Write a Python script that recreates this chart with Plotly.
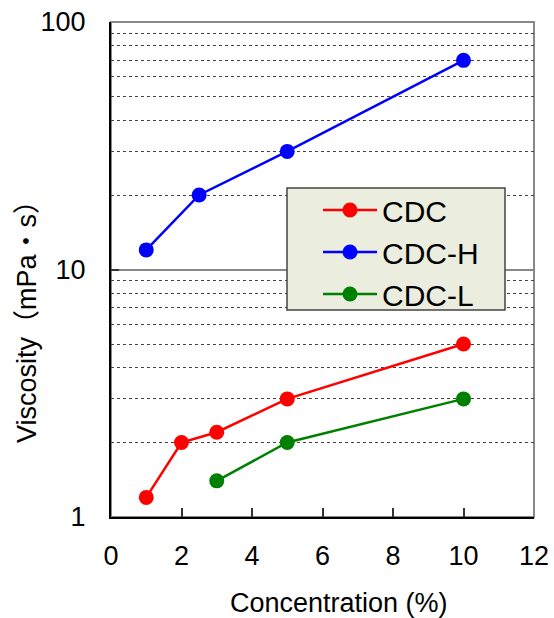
import plotly.graph_objects as go

cdc_x = [1, 2, 3, 5, 10]
cdc_y = [1.2, 2.0, 2.2, 3.0, 5.0]
cdch_x = [1, 2.5, 5, 10]
cdch_y = [12, 20, 30, 70]
cdcl_x = [3, 5, 10]
cdcl_y = [1.4, 2.0, 3.0]

x_ticks = [0, 2, 4, 6, 8, 10, 12]
y_ticks = [1, 10, 100]

FONT = "Liberation Sans, Arial, Noto Sans CJK JP, sans-serif"

fig = go.Figure()
for name, xs, ys, col in [("CDC", cdc_x, cdc_y, "#FF0000"),
                          ("CDC-H", cdch_x, cdch_y, "#0000FF"),
                          ("CDC-L", cdcl_x, cdcl_y, "#008000")]:
    fig.add_trace(go.Scatter(x=xs, y=ys, name=name, mode="lines+markers",
                             line=dict(color=col, width=2.5),
                             marker=dict(color=col, size=15)))

fig.update_layout(
    width=554, height=618,
    margin=dict(l=111, r=20, t=22, b=101, autoexpand=False),
    paper_bgcolor="white", plot_bgcolor="white",
    font=dict(family=FONT, size=27, color="black"),
    showlegend=True,
    legend=dict(x=(318 - 111) / 423, y=(517 - 184) / 495, xanchor="left", yanchor="top",
                bgcolor="rgba(0,0,0,0)", borderwidth=0,
                font=dict(size=30, family=FONT), itemwidth=54,
                tracegroupgap=0),
    shapes=[
        dict(type="rect", xref="paper", yref="paper", x0=0, x1=1, y0=0, y1=1,
             line=dict(color="#888888", width=2), layer="below"),
        dict(type="rect", xref="paper", yref="paper",
             x0=(287 - 111) / 423, x1=(505 - 111) / 423,
             y0=(517 - 310) / 495, y1=(517 - 188) / 495,
             line=dict(color="#444444", width=1.5), fillcolor="#EBEEDE",
             layer="above"),
    ],
    annotations=[
        dict(text="Concentration (%)", xref="paper", yref="paper",
             x=(339 - 111) / 423, y=-(603 - 517) / 495, showarrow=False,
             xanchor="center", yanchor="middle", font=dict(size=27)),
        dict(text="Viscosity（mPa・s）", xref="paper", yref="paper",
             x=-(111 - 27) / 423, y=(517 - 315) / 495, showarrow=False,
             textangle=-90, xanchor="center", yanchor="middle",
             font=dict(size=27)),
    ],
)

fig.update_xaxes(range=[0, 12], tickvals=x_ticks, ticktext=[str(v) for v in x_ticks],
                 showgrid=False, zeroline=False, showline=True, linecolor="black",
                 linewidth=2, ticks="inside", ticklen=9, tickwidth=1.5,
                 tickcolor="#333333", ticklabelstandoff=14, automargin=False)
fig.update_yaxes(type="log", range=[0, 2], tickvals=y_ticks,
                 ticktext=[str(v) for v in y_ticks],
                 showgrid=True, gridcolor="#888888", gridwidth=2,
                 zeroline=False, showline=True, linecolor="black", linewidth=2,
                 ticks="inside", ticklen=8, tickwidth=1.5, tickcolor="#333333",
                 ticklabelstandoff=18, automargin=False,
                 minor=dict(showgrid=True, gridcolor="#444444", gridwidth=1,
                            griddash="dot", dtick="D1", ticks=""))

fig.write_html("out.html")
